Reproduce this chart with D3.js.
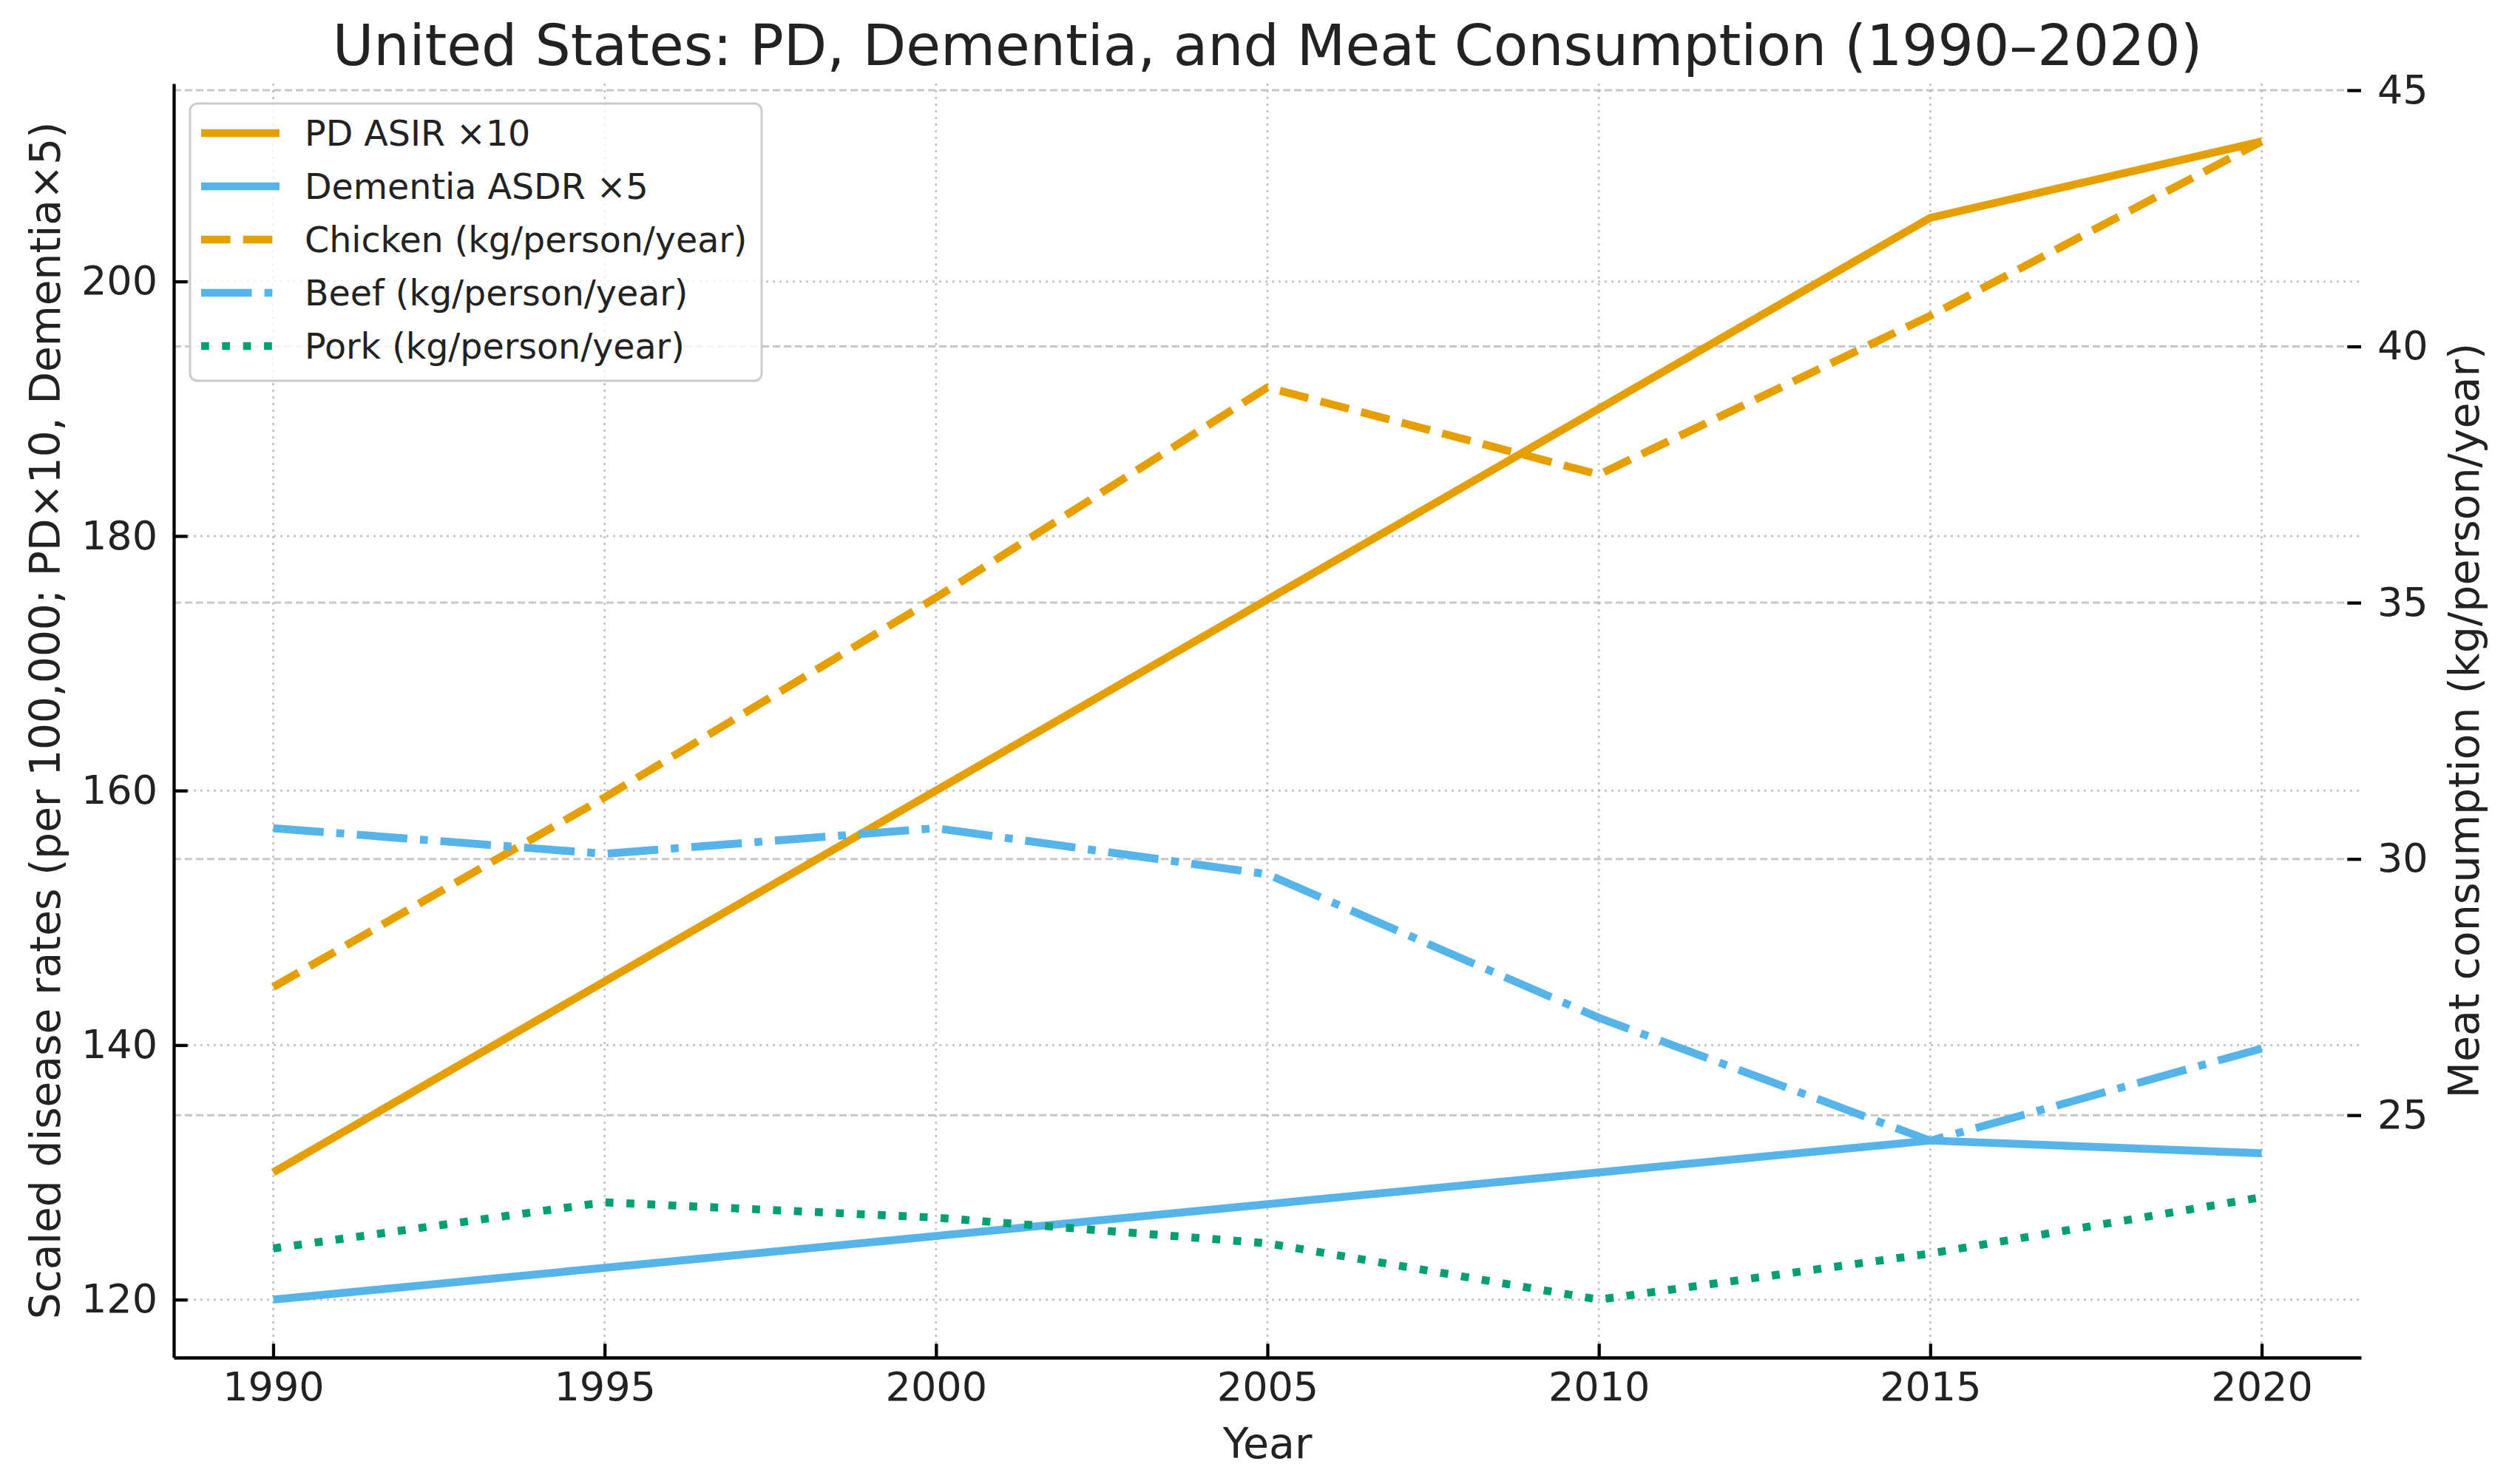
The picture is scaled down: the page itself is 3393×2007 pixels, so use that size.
<!DOCTYPE html>
<html>
<head>
<meta charset="utf-8">
<script src="https://cdn.jsdelivr.net/npm/d3@7"></script>
<style>
  body { margin: 0; background: #fff; }
  text { font-family: "DejaVu Sans", sans-serif; fill: #222; }
</style>
</head>
<body>
<script>
// DATA
var years = [1990, 1995, 2000, 2005, 2010, 2015, 2020];
var pdAsir10 = [130, 145, 160, 175, 190, 205, 211];
var dementia5 = [120, 122.5, 125, 127.5, 130, 132.5, 131.5];
var chicken = [27.5, 31.2, 35.1, 39.2, 37.5, 40.6, 44.0];
var beef = [30.6, 30.1, 30.6, 29.7, 26.9, 24.5, 26.3];
var pork = [22.4, 23.3, 23.0, 22.5, 21.4, 22.3, 23.4];
var xTicks = [1990, 1995, 2000, 2005, 2010, 2015, 2020];
var leftTicks = [120, 140, 160, 180, 200];
var rightTicks = [25, 30, 35, 40, 45];
// DATA

var width = 3393;
var height = 2007;
// plot box (window.top is reserved, so prefix the names)
var pLeft = 235, pRight = 3193, pTop = 113, pBottom = 1836;

var orange = "#E69F00", blue = "#56B4E9", green = "#009E73";
var lw = 10.7;

function padded(arr) {
  var ext = d3.extent(arr);
  var m = (ext[1] - ext[0]) * 0.05;
  return [ext[0] - m, ext[1] + m];
}

var x = d3.scaleLinear().domain(padded(years)).range([pLeft, pRight]);
var yL = d3.scaleLinear().domain(padded(pdAsir10.concat(dementia5))).range([pBottom, pTop]);
var yR = d3.scaleLinear().domain(padded(chicken.concat(beef, pork))).range([pBottom, pTop]);

var svg = d3.select("body").append("svg")
    .attr("width", width)
    .attr("height", height);

svg.append("rect")
    .attr("width", width)
    .attr("height", height)
    .attr("fill", "#ffffff");

// grids
var grid = svg.append("g").attr("stroke", "#b0b0b0").attr("stroke-opacity", 0.7).attr("stroke-width", 3);
grid.selectAll(".gx").data(xTicks).enter().append("line")
    .attr("x1", d => x(d)).attr("x2", d => x(d))
    .attr("y1", pTop).attr("y2", pBottom)
    .attr("stroke-dasharray", "3,6");
grid.selectAll(".gl").data(leftTicks).enter().append("line")
    .attr("x1", pLeft).attr("x2", pRight)
    .attr("y1", d => yL(d)).attr("y2", d => yL(d))
    .attr("stroke-dasharray", "3,6");
grid.selectAll(".gr").data(rightTicks).enter().append("line")
    .attr("x1", pLeft).attr("x2", pRight)
    .attr("y1", d => yR(d)).attr("y2", d => yR(d))
    .attr("stroke-dasharray", "10,5");

// series
var series = [
  {name: "PD ASIR ×10", values: pdAsir10, y: yL, color: orange, dash: null},
  {name: "Dementia ASDR ×5", values: dementia5, y: yL, color: blue, dash: null},
  {name: "Chicken (kg/person/year)", values: chicken, y: yR, color: orange, dash: [3.7, 1.6]},
  {name: "Beef (kg/person/year)", values: beef, y: yR, color: blue, dash: [6.4, 1.6, 1, 1.6]},
  {name: "Pork (kg/person/year)", values: pork, y: yR, color: green, dash: [1, 1.65]}
];

function dashStr(s) {
  return s.dash ? s.dash.map(v => v * lw).join(",") : null;
}

series.forEach(function(s) {
  var line = d3.line()
      .x((d, i) => x(years[i]))
      .y(d => s.y(d));
  svg.append("path")
      .attr("d", line(s.values))
      .attr("fill", "none")
      .attr("stroke", s.color)
      .attr("stroke-width", lw)
      .attr("stroke-linejoin", "round")
      .attr("stroke-dasharray", dashStr(s));
});

// axes
var xAxis = svg.append("g")
    .attr("transform", "translate(0," + pBottom + ")")
    .call(d3.axisBottom(x).tickValues(xTicks).tickFormat(d3.format("d"))
      .tickSizeInner(-18.7).tickSizeOuter(0).tickPadding(20));

var lAxis = svg.append("g")
    .attr("transform", "translate(" + pLeft + ",0)")
    .call(d3.axisLeft(yL).tickValues(leftTicks).tickSizeInner(-18.7).tickSizeOuter(0).tickPadding(22));

var rAxis = svg.append("g")
    .attr("transform", "translate(" + pRight + ",0)")
    .call(d3.axisRight(yR).tickValues(rightTicks).tickSizeInner(-18.7).tickSizeOuter(0).tickPadding(22));
rAxis.select(".domain").remove();

[xAxis, lAxis, rAxis].forEach(function(a) {
  a.selectAll("path, line").attr("stroke", "#000").attr("stroke-width", 4.3);
  a.selectAll("text").style("font-size", "54px").attr("fill", "#222")
    .style("font-family", "DejaVu Sans");
});

// labels
svg.append("text")
    .attr("x", (pLeft + pRight) / 2)
    .attr("y", 88)
    .attr("text-anchor", "middle")
    .style("font-size", "76px")
    .text("United States: PD, Dementia, and Meat Consumption (1990–2020)");

svg.append("text")
    .attr("x", (pLeft + pRight) / 2)
    .attr("y", 1972)
    .attr("text-anchor", "middle")
    .style("font-size", "57px")
    .text("Year");

svg.append("text")
    .attr("transform", "translate(61," + (pTop + pBottom) / 2 + ") rotate(-90)")
    .attr("text-anchor", "middle")
    .attr("dominant-baseline", "central")
    .style("font-size", "56.5px")
    .text("Scaled disease rates (per 100,000; PD×10, Dementia×5)");

svg.append("text")
    .attr("transform", "translate(3332," + (pTop + pBottom) / 2 + ") rotate(-90)")
    .attr("text-anchor", "middle")
    .attr("dominant-baseline", "central")
    .style("font-size", "57px")
    .text("Meat consumption (kg/person/year)");

// legend
var legend = svg.append("g");
legend.append("rect")
    .attr("x", 257).attr("y", 140)
    .attr("width", 773).attr("height", 375)
    .attr("rx", 10)
    .attr("fill", "#ffffff").attr("fill-opacity", 0.8)
    .attr("stroke", "#cccccc").attr("stroke-width", 3);

series.forEach(function(s, i) {
  var ly = 180 + i * 72;
  legend.append("line")
      .attr("x1", 272).attr("x2", 378)
      .attr("y1", ly).attr("y2", ly)
      .attr("stroke", s.color)
      .attr("stroke-width", lw)
      .attr("stroke-dasharray", dashStr(s));
  legend.append("text")
      .attr("x", 412).attr("y", ly)
      .attr("dominant-baseline", "central")
      .style("font-size", "47.5px")
      .text(s.name);
});
</script>
</body>
</html>
